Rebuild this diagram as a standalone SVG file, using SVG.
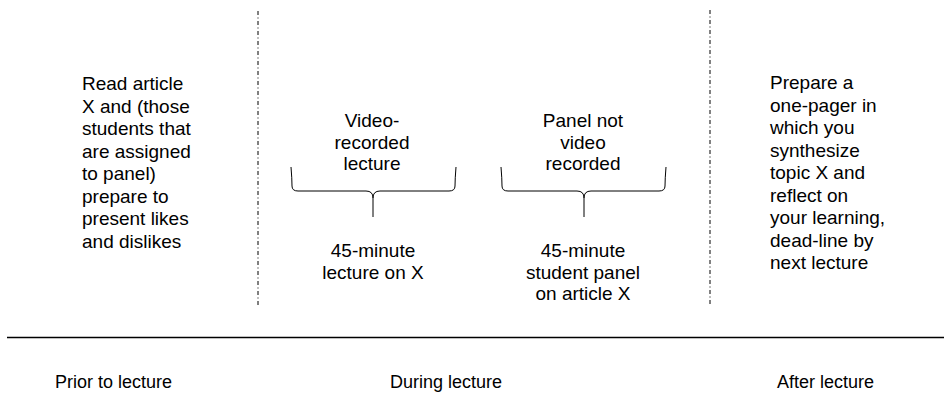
<svg xmlns="http://www.w3.org/2000/svg" width="944" height="397" viewBox="0 0 944 397">
<style>
text{font-family:"Liberation Sans",Arial,sans-serif;font-size:19px;fill:#000}
.c{text-anchor:middle}
.ph{font-size:18px}
.div{stroke:#000;stroke-width:1;stroke-dasharray:4,2.5,1,2.5;fill:none}
.brace{stroke:#000;stroke-width:1;fill:none}
</style>
<rect width="944" height="397" fill="#fff"/>
<g id="connectors">
<line class="div" x1="258" y1="11" x2="258" y2="305"/>
<line class="div" x1="710" y1="10" x2="710" y2="305"/>
<line x1="7" y1="337.5" x2="944" y2="337.5" stroke="#000" stroke-width="1.5"/>
<path class="brace" d="M291,167 Q292,179 292,186 Q292,191 298,191 H366 Q373,191 373,198 V217 M373,198 Q373,191 380,191 H449 Q455,191 455,186 Q455,179 456,167"/>
<path class="brace" d="M501,167 Q502,179 502,186 Q502,191 508,191 H577 Q584,191 584,198 V217 M584,198 Q584,191 591,191 H659 Q665,191 665,186 Q665,179 666,167"/>
</g>
<g id="prior">
<text x="82" y="90">Read article</text>
<text x="82" y="112.5">X and (those</text>
<text x="82" y="135">students that</text>
<text x="82" y="157.5">are assigned</text>
<text x="82" y="180">to panel)</text>
<text x="82" y="202.5">prepare to</text>
<text x="82" y="225">present likes</text>
<text x="82" y="247.5">and dislikes</text>
</g>
<g id="video-label">
<text class="c" x="372" y="127">Video-</text>
<text class="c" x="372" y="148.5">recorded</text>
<text class="c" x="372" y="170">lecture</text>
</g>
<g id="lecture">
<text class="c" x="373" y="257">45-minute</text>
<text class="c" x="373" y="278.5">lecture on X</text>
</g>
<g id="panel-label">
<text class="c" x="583" y="127">Panel not</text>
<text class="c" x="583" y="148.5">video</text>
<text class="c" x="583" y="170">recorded</text>
</g>
<g id="panel">
<text class="c" x="583" y="257">45-minute</text>
<text class="c" x="583" y="278.5">student panel</text>
<text class="c" x="583" y="300">on article X</text>
</g>
<g id="after">
<text x="770" y="89">Prepare a</text>
<text x="770" y="111.5">one-pager in</text>
<text x="770" y="134">which you</text>
<text x="770" y="156.5">synthesize</text>
<text x="770" y="179">topic X and</text>
<text x="770" y="201.5">reflect on</text>
<text x="770" y="224">your learning,</text>
<text x="770" y="246.5">dead-line by</text>
<text x="770" y="269">next lecture</text>
</g>
<g id="phases">
<text class="ph" x="55" y="388">Prior to lecture</text>
<text class="ph" x="390" y="388">During lecture</text>
<text class="ph" x="777" y="388">After lecture</text>
</g>
</svg>
